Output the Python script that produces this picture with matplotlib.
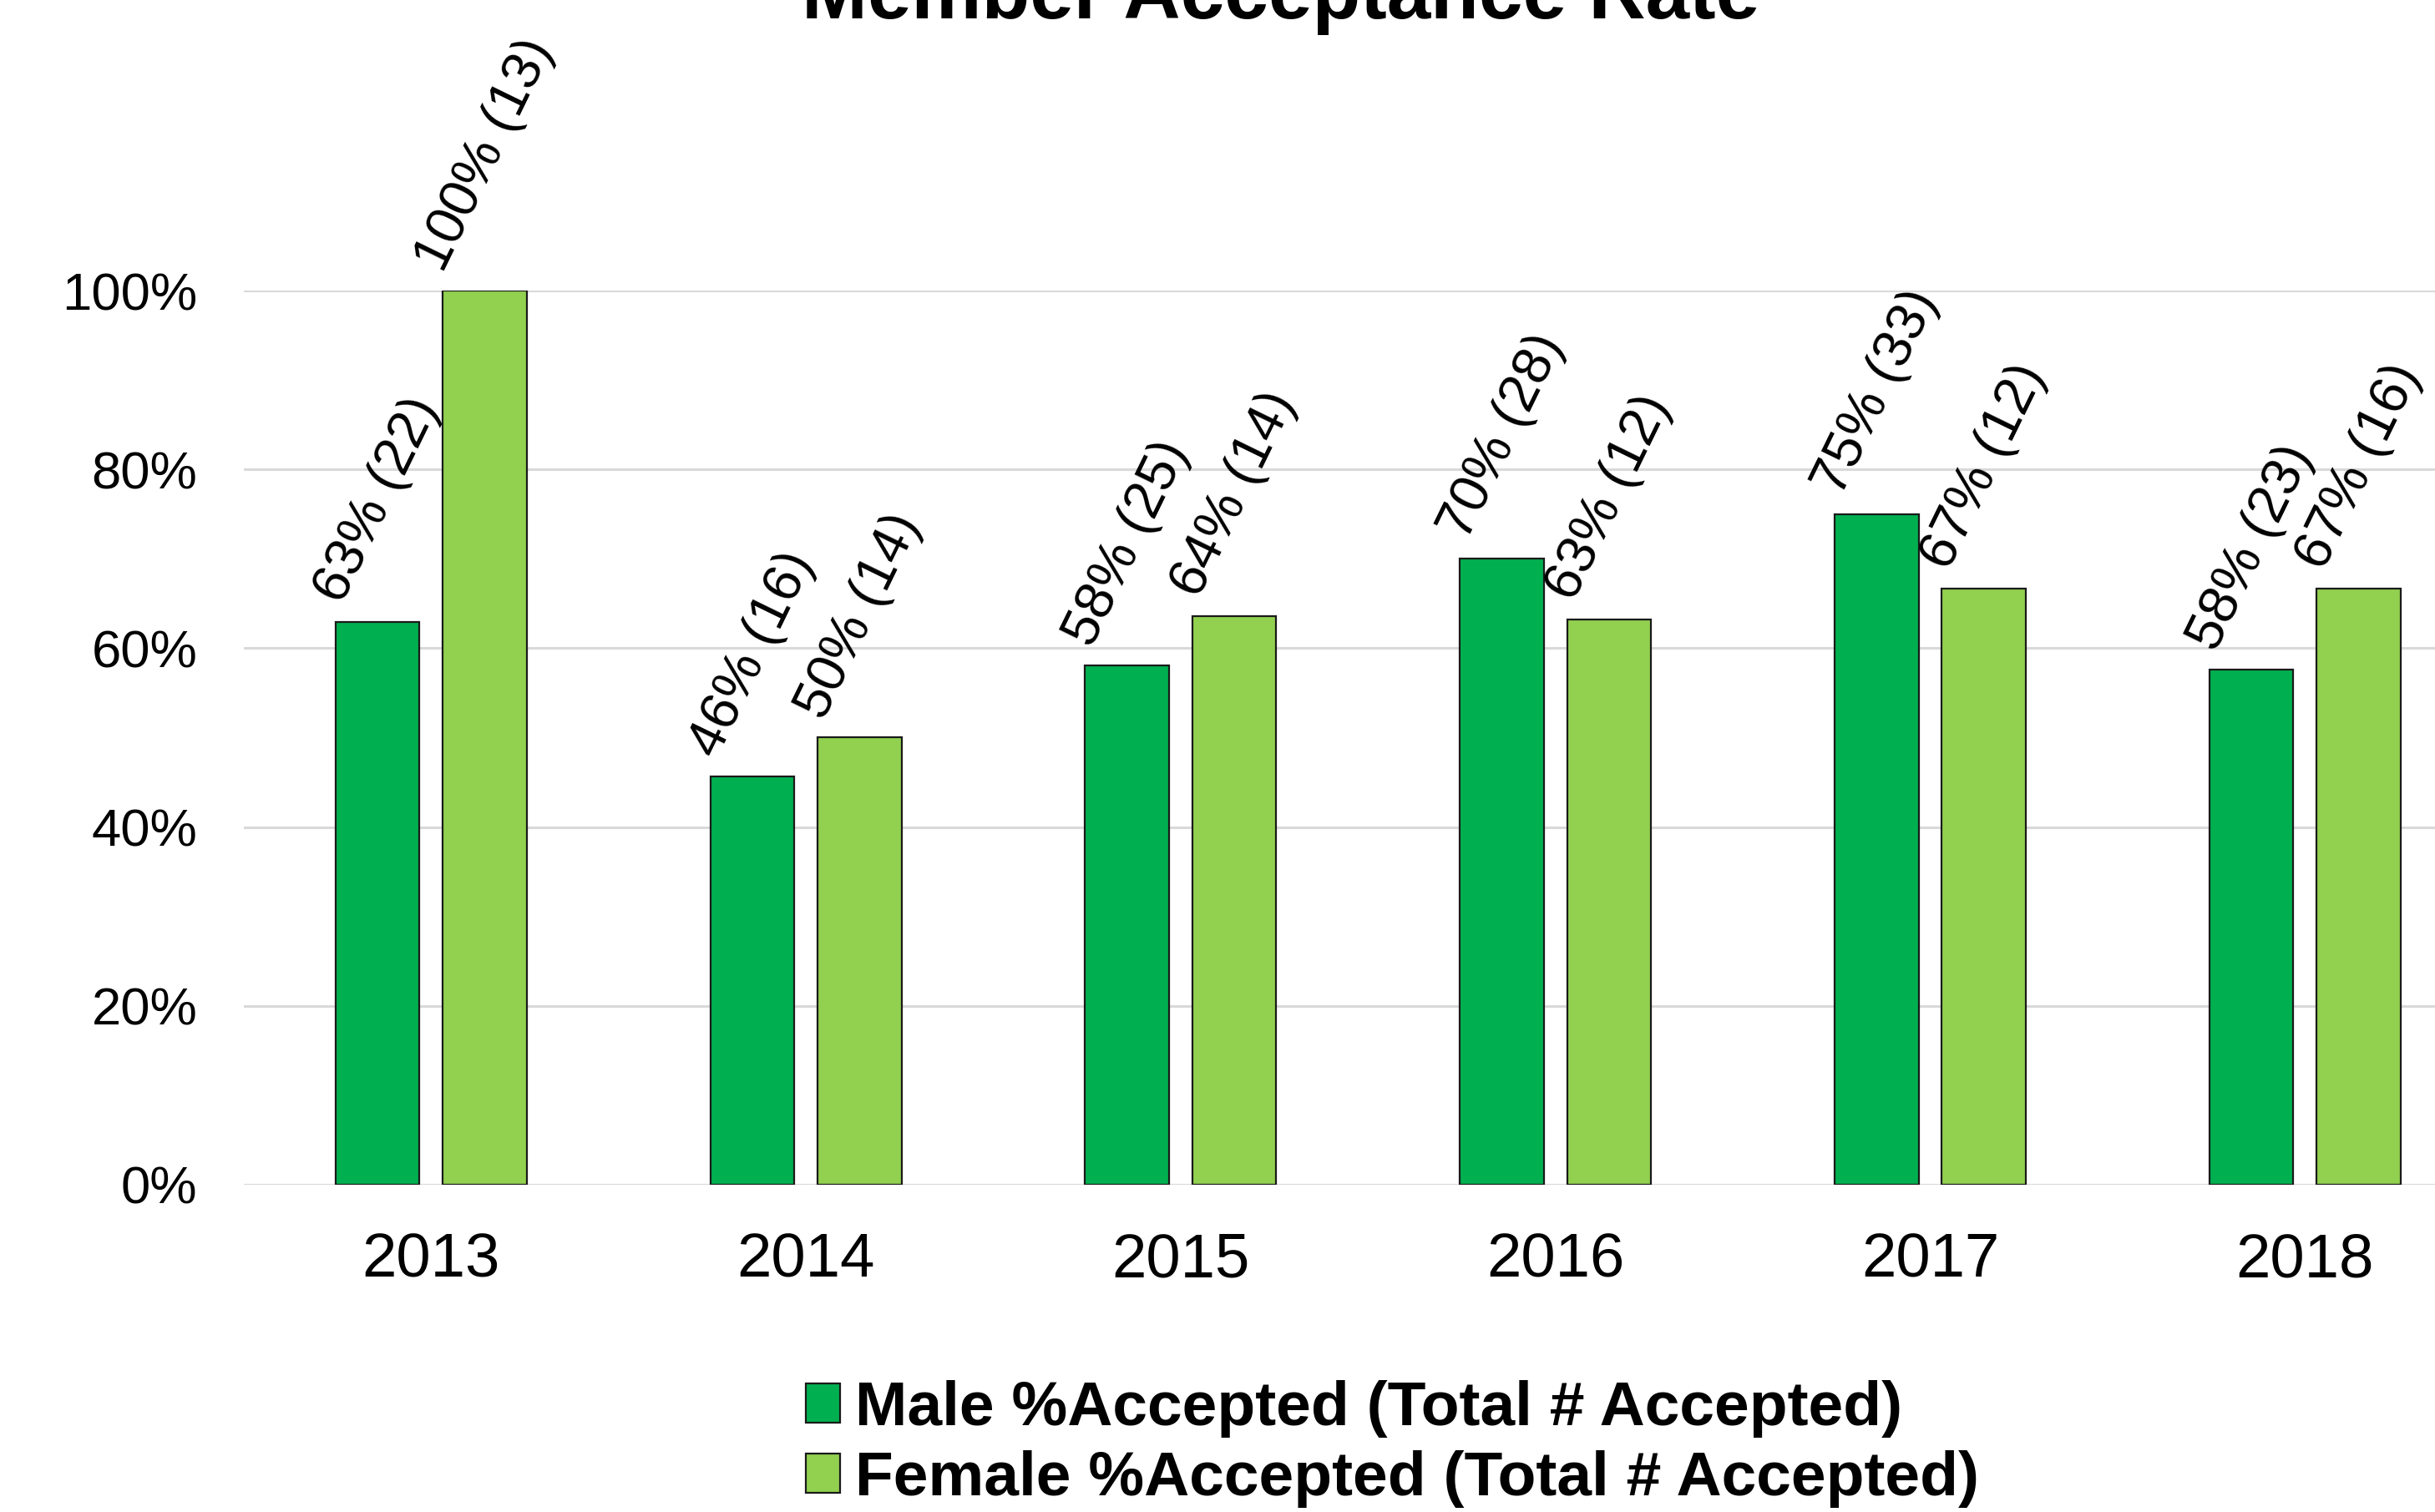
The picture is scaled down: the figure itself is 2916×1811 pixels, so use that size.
import matplotlib
matplotlib.use('Agg')
import matplotlib.pyplot as plt
import numpy as np
from matplotlib.ticker import PercentFormatter

plt.rcParams['font.family'] = ['Liberation Sans', 'DejaVu Sans']

# data
years = ['2013', '2014', '2015', '2016', '2017', '2018']
male_rate = [0.629, 0.457, 0.581, 0.700, 0.750, 0.576]
male_count = [22, 16, 25, 28, 33, 23]
female_rate = [1.000, 0.500, 0.636, 0.632, 0.667, 0.667]
female_count = [13, 14, 14, 12, 12, 16]

male_color = '#00B050'
female_color = '#92D050'

fig = plt.figure(figsize=(14.58, 9.055), dpi=200)
ax = fig.add_axes([0.1001, 0.2165, 0.9235, 0.5913])

x = np.arange(len(years))
w = 0.224
off = 0.143

b1 = ax.bar(x - off, male_rate, w, color=male_color, edgecolor='#1a1a1a', linewidth=0.8,
            label='Male %Accepted (Total # Accepted)', zorder=3)
b2 = ax.bar(x + off, female_rate, w, color=female_color, edgecolor='#1a1a1a', linewidth=0.8,
            label='Female %Accepted (Total # Accepted)', zorder=3)

# rotated data labels above the bars
for bars, rates, counts in [(b1, male_rate, male_count), (b2, female_rate, female_count)]:
    for bar, r, n in zip(bars, rates, counts):
        ax.annotate(f"{r:.0%} ({n})",
                    xy=(bar.get_x() + bar.get_width() / 2, bar.get_height()),
                    xytext=(0, 5), textcoords='offset points',
                    ha='center', va='bottom', rotation=64, fontsize=23.5)

ax.set_xlim(-0.5, 5.5)
ax.set_ylim(0, 1.0)
ax.set_yticks(np.arange(0, 1.01, 0.2))
ax.yaxis.set_major_formatter(PercentFormatter(1.0, decimals=0))
ax.set_xticks(x)
ax.set_xticklabels(years)
ax.tick_params(axis='y', length=0, labelsize=22.8, pad=20)
ax.tick_params(axis='x', length=0, labelsize=26.8, pad=20.5)
ax.yaxis.grid(True, color='#D9D9D9', linewidth=1.1, zorder=0)
ax.set_axisbelow(True)
for s in ax.spines.values():
    s.set_visible(False)

fig.text(0.526, 1 - 22 / 1811, 'Member Acceptance Rate', ha='center', va='baseline',
         fontsize=34, weight='bold')

ax.legend(loc='center left', bbox_to_anchor=(0.331, 0.045), bbox_transform=fig.transFigure,
          frameon=False, prop={'size': 27, 'weight': 'bold'}, handlelength=0.54,
          handleheight=0.58, handletextpad=0.25, labelspacing=0.2, borderpad=0,
          borderaxespad=0)

fig.savefig('out.png', dpi=200)
